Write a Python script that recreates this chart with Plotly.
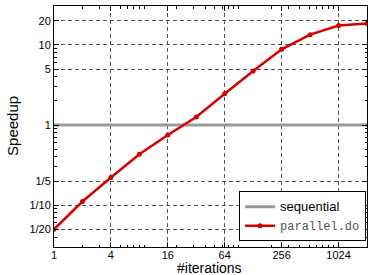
import plotly.graph_objects as go
import math

# Data
iterations = [1, 2, 4, 8, 16, 32, 64, 128, 256, 512, 1024, 2048]
parallel_speedup = [0.05, 0.111, 0.221, 0.432, 0.75, 1.26, 2.45, 4.73, 8.8, 13.4, 17.4, 18.5]
seq_x = [1, 2048]
seq_y = [1, 1]

x_tickvals = [1, 4, 16, 64, 256, 1024]
x_ticktext = ["1", "4", "16", "64", "256", "1024"]
y_tickvals = [0.05, 0.1, 0.2, 1, 5, 10, 20]
y_ticktext = ["1/20", "1/10", "1/5", "1", "5", "10", "20"]

x_minor = [m * 10 ** e for e in range(0, 4) for m in range(2, 10) if m * 10 ** e <= 2048]
y_minor = [m * 10 ** e for e in range(-2, 2) for m in range(2, 10) if 0.031 <= m * 10 ** e <= 30]

fig = go.Figure()
fig.add_trace(go.Scatter(
    x=seq_x, y=seq_y, mode="lines",
    name='<span style="font-size:13px">sequential</span>',
    line=dict(color="#999999", width=3),
))
fig.add_trace(go.Scatter(
    x=iterations, y=parallel_speedup, mode="lines+markers",
    name='<span style="font-family:Liberation Mono;font-size:12px;color:#555555">parallel.do</span>',
    line=dict(color="#d40000", width=2.5),
    marker=dict(color="#d40000", size=5),
))

axis_common = dict(
    type="log", showline=True, linecolor="black", linewidth=1, mirror="ticks",
    ticks="inside", ticklen=5, tickcolor="black",
    showgrid=True, gridcolor="#555555", griddash="4px,3px", gridwidth=1,
    zeroline=False, tickfont=dict(size=11, color="black", family="Liberation Sans"),
)

fig.update_xaxes(
    range=[0, math.log10(2048)], tickvals=x_tickvals, ticktext=x_ticktext,
    ticklabelstandoff=-2,
    minor=dict(tickvals=x_minor, ticks="inside", ticklen=2.5, tickcolor="black", showgrid=False),
    **axis_common,
)
fig.update_yaxes(
    range=[-1.522, 1.485], tickvals=y_tickvals, ticktext=y_ticktext,
    minor=dict(tickvals=y_minor, ticks="inside", ticklen=2.5, tickcolor="black", showgrid=False),
    **axis_common,
)

fig.update_layout(
    width=368, height=275,
    margin=dict(l=54, r=1, t=6, b=28),
    plot_bgcolor="white", paper_bgcolor="white",
    font=dict(family="Liberation Sans", color="black"),
    legend=dict(
        x=0.997, y=0.024, xanchor="right", yanchor="bottom",
        bgcolor="white", bordercolor="black", borderwidth=1,
        font=dict(size=11, family="Liberation Sans", color="black"),
        tracegroupgap=0,
    ),
    annotations=[
        dict(text="Speedup", xref="paper", yref="paper", x=-0.132, y=0.501,
             textangle=-90, showarrow=False, font=dict(size=15),
             xanchor="center", yanchor="middle"),
        dict(text="#iterations", xref="paper", yref="paper", x=0.497, y=-0.086,
             showarrow=False, font=dict(size=14), xanchor="center", yanchor="middle"),
    ],
)

fig.write_html("out.html", config={"displayModeBar": False},
               post_script="document.body.style.margin='0';")
